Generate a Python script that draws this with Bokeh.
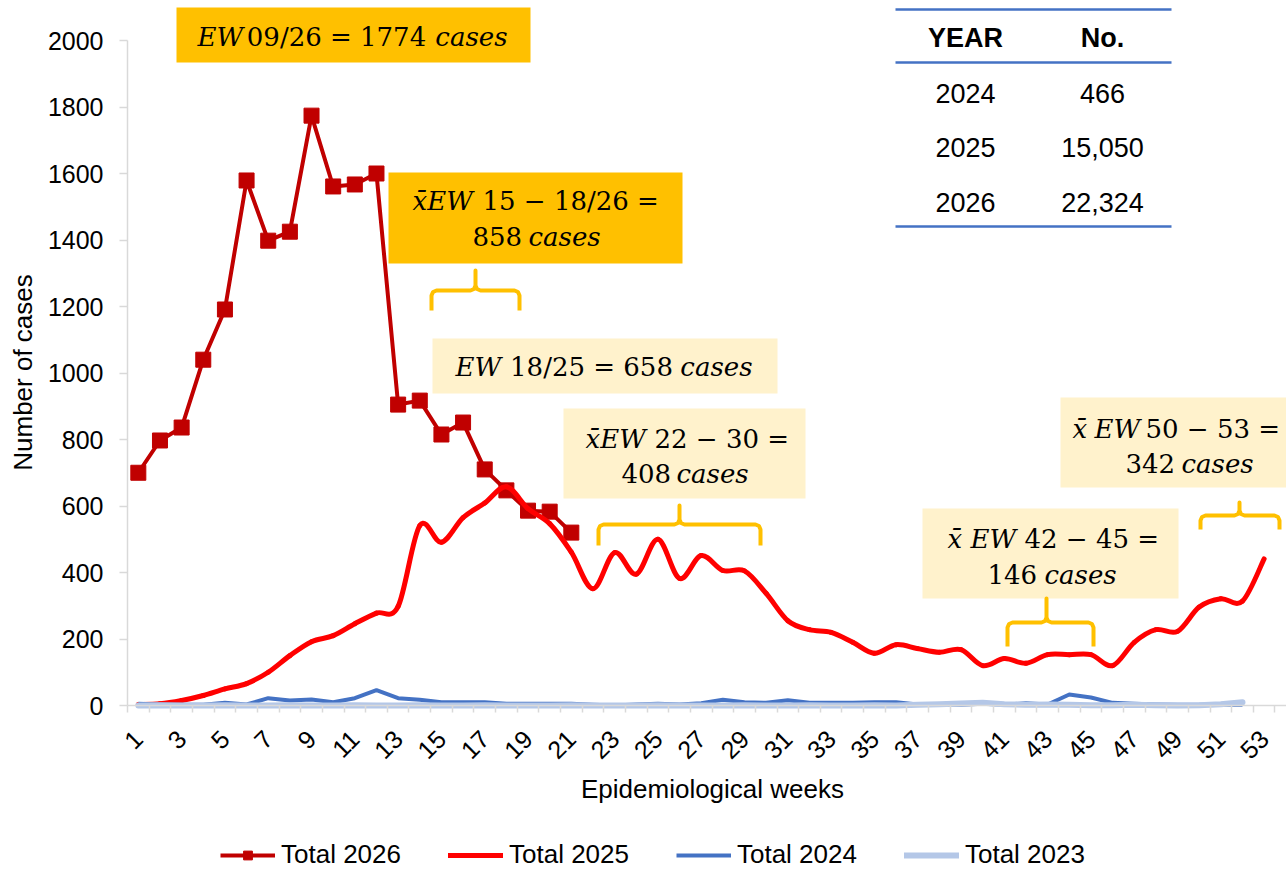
import math
from bokeh.plotting import figure
from bokeh.models import Range1d, FixedTicker, Legend, LegendItem, Label
from bokeh.core.properties import value
from bokeh.embed import file_html
from bokeh.resources import INLINE

# ---------------- data ----------------
weeks = list(range(1, 54))
week_tick_values = list(range(1, 54, 2))
week_tick_labels = [str(w) for w in week_tick_values]
y_tick_values = list(range(0, 2001, 200))

total_2026 = [700, 797, 836, 1040, 1191, 1579, 1398, 1425, 1774, 1561, 1567, 1600,
              905, 917, 815, 851, 710, 647, 586, 583, 520]
total_2025 = [3, 5, 15, 30, 50, 66, 100, 150, 192, 210, 246, 278, 298, 541, 491, 565,
              609, 658, 592, 547, 461, 351, 460, 395, 500, 382, 451, 406, 405, 337, 255,
              228, 220, 190, 157, 183, 171, 160, 168, 120, 141, 127, 153, 153, 153, 120,
              190, 228, 223, 296, 321, 314, 441]
total_2024 = [5, 3, 2, 2, 8, 3, 22, 15, 18, 10, 22, 46, 22, 17, 10, 10, 10, 5, 5, 5,
              5, 2, 0, 3, 5, 3, 7, 17, 10, 8, 16, 8, 8, 8, 10, 10, 3, 3, 2, 5,
              2, 7, 3, 33, 24, 8, 5, 3, 2, 2, 2, 2]
total_2023 = [0, 1, 0, 0, 1, 0, 0, 1, 0, 0, 1, 0, 0, 1, 0, 0, 1, 0, 0, 0,
              1, 0, 0, 0, 1, 0, 0, 0, 1, 0, 0, 1, 0, 0, 1, 0, 2, 4, 6, 8,
              4, 2, 3, 2, 1, 1, 2, 1, 0, 1, 4, 10]

table_years = ["2024", "2025", "2026"]
table_counts = ["466", "15,050", "22,324"]

# ---------------- layout helpers (canvas pixels -> data) ----------------
W, H = 1286, 871
AX_L, AX_B = 127, 705          # canvas px of the axes corner
PX_WEEK = 21.65
PX_UNIT = 0.3325


def X(px):
    return 0.5 + (px - AX_L) / PX_WEEK


def Y(py):
    return (AX_B - py) / PX_UNIT


p = figure(width=W, height=H, output_backend="svg", toolbar_location=None,
           x_range=Range1d(X(0), X(W)), y_range=Range1d(Y(H), Y(0)),
           min_border=0, min_border_left=0, min_border_right=0,
           min_border_top=0, min_border_bottom=0)
p.outline_line_color = None
p.xgrid.visible = False
p.ygrid.visible = False
p.background_fill_color = "white"
p.border_fill_color = "white"

AXIS_GREY = "#D9D9D9"
FONT = "Liberation Sans"

# y axis
ya = p.yaxis[0]
ya.fixed_location = 0.5
ya.ticker = FixedTicker(ticks=y_tick_values)
ya.bounds = (0, 2000)
ya.axis_line_color = AXIS_GREY
ya.axis_line_width = 1.5
ya.major_tick_line_color = AXIS_GREY
ya.major_tick_line_width = 1.5
ya.major_tick_out = 8
ya.major_tick_in = 0
ya.minor_tick_line_color = None
ya.major_label_standoff = 16
ya.major_label_text_font = FONT
ya.major_label_text_font_size = "25px"
ya.major_label_text_color = "black"

# x axis
xa = p.xaxis[0]
xa.fixed_location = 0
xa.bounds = (0.5, X(W))
xa.ticker = FixedTicker(ticks=week_tick_values,
                        minor_ticks=[w - 0.5 for w in weeks] + [weeks[-1] + 0.5])
xa.major_label_overrides = {v: t for v, t in zip(week_tick_values, week_tick_labels)}
xa.axis_line_color = AXIS_GREY
xa.axis_line_width = 1.5
xa.major_tick_line_color = None
xa.minor_tick_line_color = AXIS_GREY
xa.minor_tick_line_width = 1.5
xa.minor_tick_out = 7
xa.minor_tick_in = 0
xa.major_tick_out = 0
xa.major_tick_in = 0
xa.major_label_orientation = math.pi / 4
xa.major_label_standoff = 22
xa.major_label_text_font = FONT
xa.major_label_text_font_size = "25px"
xa.major_label_text_color = "black"

# axis titles
p.add_layout(Label(x=X(712), y=Y(788), text="Epidemiological weeks",
                   text_align="center", text_baseline="middle",
                   text_font=FONT, text_font_size="26px", text_color="black"))
p.add_layout(Label(x=X(22), y=Y(372), text="Number of cases", angle=math.pi / 2,
                   text_align="center", text_baseline="middle",
                   text_font=FONT, text_font_size="26px", text_color="black"))

# ---------------- series ----------------
C26, C25, C24, C23 = "#C00000", "#FF0000", "#4472C4", "#B4C7E7"

w26 = weeks[:len(total_2026)]
r26l = p.line(w26, total_2026, line_color=C26, line_width=4, line_join="round")
r26m = p.scatter(w26, total_2026, marker="square", size=15,
                 fill_color=C26, line_color=C26)


def smooth_segments(xs, ys):
    """Bezier control points for a smoothed (Catmull-Rom) line through the data."""
    n = len(xs)
    out = {k: [] for k in ("x0", "y0", "x1", "y1", "cx0", "cy0", "cx1", "cy1")}
    for i in range(n - 1):
        a, b = max(i - 1, 0), min(i + 2, n - 1)
        out["x0"].append(xs[i]); out["y0"].append(ys[i])
        out["x1"].append(xs[i + 1]); out["y1"].append(ys[i + 1])
        out["cx0"].append(xs[i] + (xs[i + 1] - xs[a]) / 6)
        out["cy0"].append(ys[i] + (ys[i + 1] - ys[a]) / 6)
        out["cx1"].append(xs[i + 1] - (xs[b] - xs[i]) / 6)
        out["cy1"].append(ys[i + 1] - (ys[b] - ys[i]) / 6)
    return out


seg25 = smooth_segments(weeks, total_2025)
r25 = p.bezier(line_color=C25, line_width=5, line_cap="round", **seg25)
# legend proxy: a one-point line (draws nothing on the plot) carrying the style
r25_leg = p.line(x=weeks[:1], y=total_2025[:1], line_color=C25, line_width=5)

w24 = weeks[:len(total_2024)]
r24 = p.line(w24, total_2024, line_color=C24, line_width=4, line_join="round")
w23 = weeks[:len(total_2023)]
r23 = p.line(w23, total_2023, line_color=C23, line_width=6, line_join="round",
             line_cap="round")

legend = Legend(items=[LegendItem(label="Total 2026", renderers=[r26l, r26m]),
                       LegendItem(label="Total 2025", renderers=[r25_leg, r25]),
                       LegendItem(label="Total 2024", renderers=[r24]),
                       LegendItem(label="Total 2023", renderers=[r23])],
                location=(220, 1), orientation="horizontal",
                glyph_width=55, glyph_height=22, label_height=22, label_standoff=6,
                spacing=47, padding=0, margin=0, border_line_color=None,
                background_fill_alpha=0, label_text_font=FONT,
                label_text_font_size="26px", label_text_color="black",
                label_text_baseline="middle")
p.add_layout(legend)

# ---------------- annotation boxes ----------------
GOLD, CREAM = "#FFC000", "#FFF2CC"
boxes = [  # left, right, top, bottom (canvas px), colour
    (176, 530, 7, 62, GOLD),
    (388, 682, 172, 263, GOLD),
    (432, 777, 338, 393, CREAM),
    (563, 805, 408, 498, CREAM),
    (922, 1178, 508, 598, CREAM),
    (1060, 1290, 397, 487, CREAM),
]
p.quad(left=[X(b[0]) for b in boxes], right=[X(b[1]) for b in boxes],
       top=[Y(b[2]) for b in boxes], bottom=[Y(b[3]) for b in boxes],
       fill_color=[b[4] for b in boxes], line_color=None)

MATH_FONT = "DejaVu Serif"
pieces = [  # x, centre y (canvas px), text, italic?, align
    (197, 36, "EW", True, "left"), (336, 36, "09/26 = 1774", False, "center"),
    (507, 36, "cases", True, "right"),
    (412, 200, "x\u0304EW", True, "left"), (482, 200, "15 \u2212 18/26 =", False, "left"),
    (472, 236, "858", False, "left"), (528, 236, "cases", True, "left"),
    (455, 366, "EW", True, "left"), (591, 366, "18/25 = 658", False, "center"),
    (752, 366, "cases", True, "right"),
    (585, 438, "x\u0304EW", True, "left"), (654, 438, "22 \u2212 30 =", False, "left"),
    (621, 473, "408", False, "left"), (676, 473, "cases", True, "left"),
    (947, 538, "x\u0304", True, "left"), (970, 538, "EW", True, "left"),
    (1024, 538, "42 \u2212 45 =", False, "left"),
    (987, 574, "146", False, "left"), (1044, 574, "cases", True, "left"),
    (1072, 428, "x\u0304", True, "left"), (1094, 428, "EW", True, "left"),
    (1145, 428, "50 \u2212 53 =", False, "left"),
    (1125, 463, "342", False, "left"), (1181, 463, "cases", True, "left"),
]
for italic in (True, False):
    for align in ("left", "center", "right"):
        sel = [pc for pc in pieces if pc[3] == italic and pc[4] == align]
        if not sel:
            continue
        p.text(x=[X(pc[0]) for pc in sel], y=[Y(pc[1]) for pc in sel],
               text=[pc[2] for pc in sel], text_font=value(MATH_FONT),
               text_font_style="italic" if italic else "normal",
               text_font_size="26px", text_color="black",
               text_align=align, text_baseline="middle")

# braces (canvas px): x_left, x_centre, x_right, y_top_of_stub, y_bar, y_leg_end
braces = [
    (431, 475, 519, 270, 290, 310),
    (598, 679, 760, 505, 524, 545),
    (1007, 1046, 1093, 598, 622, 646),
    (1200, 1239, 1279, 502, 515, 529),
]
bx, by = [], []
for xl, xc, xr, yt, yb, ye in braces:
    r = 5
    pts = [(xl, ye), (xl, yb + r), (xl + r * 0.3, yb + r * 0.3), (xl + r, yb),
           (xc - r, yb), (xc - r * 0.3, yb - r * 0.3), (xc, yb - r), (xc, yt),
           (xc, yb - r), (xc + r * 0.3, yb - r * 0.3), (xc + r, yb),
           (xr - r, yb), (xr - r * 0.3, yb + r * 0.3), (xr, yb + r), (xr, ye)]
    bx.append([X(a) for a, _ in pts])
    by.append([Y(b) for _, b in pts])
p.multi_line(bx, by, line_color=GOLD, line_width=4, line_join="round")

# ---------------- summary table ----------------
TBL_BLUE = "#4472C4"
tl, tr = 895, 1171
p.segment(x0=[X(tl)] * 3, x1=[X(tr)] * 3, y0=[Y(9), Y(62), Y(226)],
          y1=[Y(9), Y(62), Y(226)], line_color=TBL_BLUE, line_width=2.5)
p.text(x=[X(965), X(1102)], y=[Y(37), Y(37)], text=["YEAR", "No."],
       text_font=value(FONT), text_font_style="bold", text_font_size="27px",
       text_color="black", text_align="center", text_baseline="middle")
row_y = [93, 147, 202]
p.text(x=[X(965)] * 3 + [X(1102)] * 3, y=[Y(v) for v in row_y] * 2,
       text=table_years + table_counts, text_font=value(FONT),
       text_font_size="27px", text_color="black",
       text_align="center", text_baseline="middle")

open("out.html", "w").write(file_html(p, INLINE))
